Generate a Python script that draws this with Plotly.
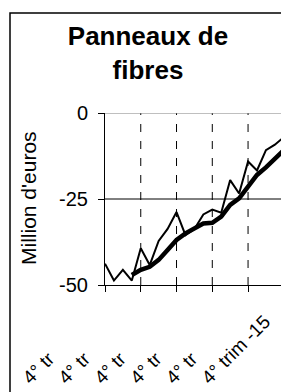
import plotly.graph_objects as go

quarters = list(range(21))
actual = [-43.8, -48.7, -45.6, -48.7, -39.3, -44.2, -37.2, -33.7, -28.8, -35.5,
          -33.7, -29.5, -28.1, -29.0, -19.5, -23.4, -14.1, -16.7, -10.8, -9.2, -7.0]
trend_x = list(range(3, 21))
trend = [-47.1, -45.6, -44.7, -42.7, -39.8, -36.9, -35.0, -33.5, -32.1, -31.9,
         -30.1, -26.7, -24.8, -21.4, -18.0, -15.8, -13.2, -10.8]
tick_pos = [0, 4, 8, 12, 16, 20]
tick_labels = ["4° tr", "4° tr", "4° tr", "4° tr", "4° tr", "4° trim -15"]
y_ticks = [0, -25, -50]
y_tick_labels = ["0", "-25", "-50"]

NB = "\u00a0"
ticktext = [t if len(t) > 6 else t + NB * 10 for t in tick_labels]

# the page body has an 8px margin: figure is drawn 8px right/down
W, H = 281, 384
L, R, T, B = 97, 5, 105, 107
PW, PH = W - L - R, H - T - B

fig = go.Figure()
fig.add_trace(go.Scatter(x=quarters, y=actual, mode="lines",
                         line=dict(color="black", width=2), showlegend=False))
fig.add_trace(go.Scatter(x=trend_x, y=trend, mode="lines",
                         line=dict(color="black", width=4.5), showlegend=False))

shapes = []
for xv in tick_pos[1:]:
    shapes.append(dict(type="line", xref="x", yref="y", x0=xv, x1=xv, y0=-50, y1=0,
                       line=dict(color="black", width=1, dash="8px,9px"), layer="below"))
shapes.append(dict(type="line", xref="x", yref="y", x0=0, x1=20, y0=-25, y1=-25,
                   line=dict(color="black", width=1), layer="below"))
shapes.append(dict(type="line", xref="x", yref="y", x0=0, x1=20, y0=0, y1=0,
                   line=dict(color="#808080", width=1), layer="below"))
# outer chart border
shapes.append(dict(type="rect", xref="paper", yref="paper",
                   x0=(2 - L) / PW, x1=1.3, y0=-1.0, y1=1 + (T - 5) / PH,
                   line=dict(color="black", width=1.5)))

annotations = [dict(text="Million d'euros", textangle=-90, xref="paper", yref="paper",
                    x=(20 - L) / PW, y=(PH - (190 - T)) / PH, xanchor="center",
                    yanchor="middle", showarrow=False, font=dict(size=21))]
for yv, lab in zip(y_ticks, y_tick_labels):
    annotations.append(dict(text=lab, xref="paper", yref="y", x=(82 - L) / PW, y=yv,
                            xanchor="right", yanchor="middle", showarrow=False,
                            font=dict(size=20)))

fig.update_layout(
    width=W, height=H,
    margin=dict(l=L, r=R, t=T, b=B, autoexpand=False),
    paper_bgcolor="white", plot_bgcolor="white",
    font=dict(family="Liberation Sans, Arial, sans-serif", color="black"),
    title=dict(text="<b>Panneaux de<br>fibres</b>", x=140 / W, xanchor="center",
               y=1 - 37 / H, yanchor="top", font=dict(size=26, color="black")),
    shapes=shapes,
    annotations=annotations,
)
fig.update_xaxes(range=[0, 20.02], tickvals=tick_pos, ticktext=ticktext, tickangle=-45,
                 automargin=False, ticklabelstandoff=11, ticklabelshift=-19,
                 showgrid=False, zeroline=False, showline=True, linecolor="black",
                 linewidth=1, ticks="outside", ticklen=6, tickcolor="black",
                 tickfont=dict(size=19))
fig.update_yaxes(range=[-50, 0], tickvals=y_ticks, showticklabels=False,
                 showgrid=False, zeroline=False, automargin=False,
                 showline=True, linecolor="black", linewidth=1, ticks="outside",
                 ticklen=6, tickcolor="black")

fig.write_html("out.html")
